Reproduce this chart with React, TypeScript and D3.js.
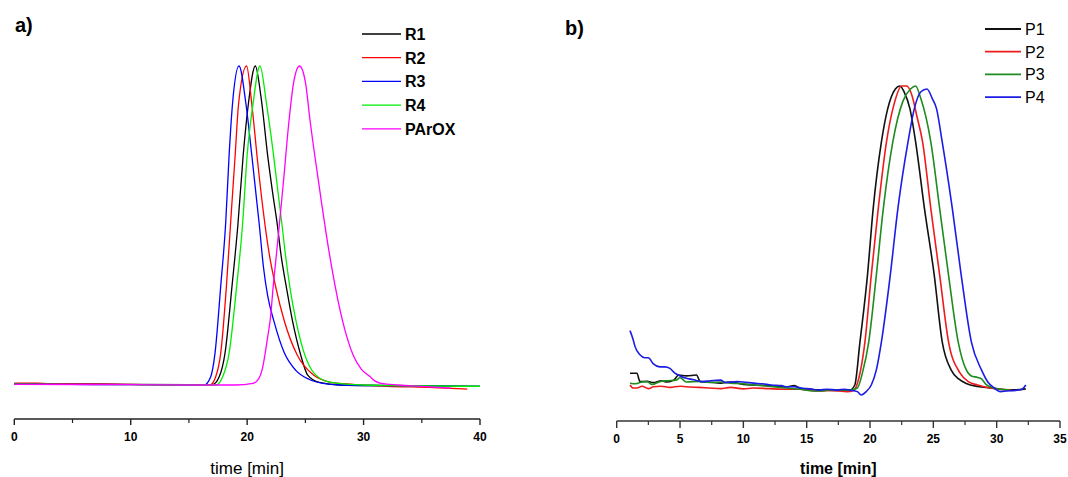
import React from "react";
import * as d3 from "d3";

type Pt = [number, number];

// ---------- Panel a data (time [min], normalized signal) ----------
const seriesA_names = ["R1", "R2", "R3", "R4", "PArOX"];
const seriesA_colors = ["#000000", "#ff0000", "#0000ff", "#00ee00", "#ff00ff"];

const R1: Pt[] = [[0,0.004],[5,0.003],[10,0.002],[15,0.001],[17,0.001],[17.6,0.026],[18.1,0.1],[18.7,0.31],[19.2,0.5],[19.66,0.72],[20.1,0.88],[20.7,1.0],[21.2,0.9],[21.76,0.72],[22.2,0.6],[22.6,0.5],[22.9,0.41],[23.4,0.3],[23.9,0.2],[24.6,0.094],[25.2,0.031],[26.2,0.008],[28,0.0],[32,-0.002],[40,-0.004]];
const R2: Pt[] = [[0,0.006],[2,0.006],[3,0.004],[6,0.004],[10,0.002],[15,0.0],[16.8,0.0],[17.3,0.026],[17.73,0.1],[18.22,0.31],[18.6,0.52],[18.97,0.72],[19.26,0.88],[19.95,1.0],[20.4,0.88],[20.9,0.7],[21.4,0.54],[21.9,0.41],[22.5,0.3],[23.2,0.2],[24.3,0.094],[25.7,0.031],[27,0.01],[28.3,0.004],[32,-0.004],[36,-0.008],[38.9,-0.013]];
const R3: Pt[] = [[0,0.003],[5,0.002],[10,0.001],[16.3,0.0],[16.87,0.026],[17.24,0.1],[17.73,0.31],[18.16,0.51],[18.45,0.72],[18.74,0.88],[19.3,1.0],[19.9,0.88],[20.4,0.72],[21.05,0.5],[21.4,0.37],[21.76,0.28],[22.3,0.2],[23.2,0.1],[24.2,0.045],[25.3,0.018],[26.5,0.005],[28,0.0],[32,-0.002],[40,-0.004]];
const R4: Pt[] = [[0,0.003],[10,0.001],[17.3,0.0],[17.9,0.026],[18.45,0.1],[19.1,0.31],[19.6,0.5],[20.0,0.72],[20.5,0.88],[21.1,1.0],[21.67,0.88],[22.2,0.74],[22.6,0.62],[23.0,0.5],[23.25,0.42],[23.7,0.3],[24.2,0.2],[24.9,0.1],[25.8,0.035],[27.2,0.008],[30,0.0],[40,-0.004]];
const PArOX: Pt[] = [[0,0.002],[10,0.001],[16,0.0],[19,0.0],[20.5,0.005],[21.0,0.02],[21.3,0.05],[21.76,0.15],[22.0,0.21],[22.24,0.31],[22.6,0.44],[23.1,0.63],[23.6,0.83],[24.0,0.95],[24.5,1.0],[25.0,0.95],[25.4,0.83],[26.2,0.62],[27.07,0.41],[28.2,0.2],[29.1,0.094],[29.8,0.05],[30.5,0.028],[31.0,0.012],[31.5,0.005],[33,0.0],[35,-0.004],[37.5,-0.01]];
const seriesA: Pt[][] = [R1, R2, R3, R4, PArOX];

const ticksA = [0, 10, 20, 30, 40];
const minorTicksA = [5, 15, 25, 35];

// ---------- Panel b data ----------
const seriesB_names = ["P1", "P2", "P3", "P4"];
const seriesB_colors = ["#111111", "#ee1c1c", "#1e8c1e", "#1c1ce6"];

const P1: Pt[] = [[1.05,0.049],[1.6,0.049],[1.75,0.03],[1.84,0.021],[2.4,0.022],[2.9,0.018],[3.5,0.024],[4.0,0.02],[4.5,0.026],[4.9,0.043],[5.5,0.04],[6.3,0.043],[6.6,0.021],[7.2,0.02],[8.2,0.016],[9.0,0.02],[10.0,0.012],[10.8,0.01],[12,0.008],[13.4,0.004],[14.0,0.008],[14.7,-0.005],[16,-0.006],[17.4,-0.008],[18.4,-0.007],[18.8,0.01],[19.2,0.15],[19.8,0.374],[20.25,0.594],[20.9,0.815],[21.4,0.925],[22.0,0.99],[22.36,1.0],[22.7,0.98],[23.15,0.925],[23.6,0.815],[24.3,0.594],[25.07,0.374],[25.7,0.153],[26.4,0.06],[27.0,0.03],[27.6,0.015],[28.5,0.005],[29.5,0.0],[30.5,-0.005],[31.5,-0.006],[32.3,-0.003]];
const P2: Pt[] = [[1.05,0.01],[1.3,0.0],[1.6,0.0],[2.0,0.006],[2.5,-0.002],[2.9,0.004],[3.5,0.006],[4.2,0.002],[5.0,0.006],[5.5,0.004],[6.5,0.002],[7.3,0.0],[8.2,-0.002],[9.0,0.002],[10.0,-0.003],[10.8,0.0],[12.0,-0.002],[13.4,-0.004],[14.5,-0.004],[16.0,-0.01],[17.0,-0.008],[18.2,-0.012],[18.7,-0.008],[19.1,0.03],[19.6,0.153],[20.1,0.374],[20.65,0.594],[21.3,0.815],[21.9,0.94],[22.5,1.0],[22.9,1.0],[23.3,0.97],[23.7,0.9],[24.15,0.815],[24.8,0.594],[25.5,0.374],[26.2,0.153],[27.1,0.05],[27.8,0.02],[28.5,0.01],[29.5,0.0],[30.5,-0.005],[31.2,-0.008]];
const P3: Pt[] = [[1.05,0.016],[1.5,0.014],[2.0,0.02],[2.4,0.021],[2.8,0.012],[3.4,0.021],[4.0,0.024],[4.7,0.026],[5.0,0.034],[5.5,0.02],[6.5,0.022],[7.5,0.018],[8.2,0.02],[9.0,0.016],[10.0,0.014],[10.8,0.01],[12.0,0.006],[13.4,0.0],[14.5,-0.004],[15.5,-0.01],[16.0,-0.01],[17.0,-0.006],[18.4,-0.007],[19.0,0.0],[19.4,0.05],[19.9,0.153],[20.5,0.374],[21.05,0.594],[21.8,0.815],[22.6,0.95],[23.2,0.99],[23.6,1.0],[24.0,0.96],[24.8,0.815],[25.5,0.594],[26.2,0.374],[26.96,0.153],[27.6,0.06],[28.0,0.04],[28.5,0.035],[28.8,0.03],[29.2,0.01],[29.8,0.0],[30.5,-0.005],[31.0,-0.006]];
const P4: Pt[] = [[1.05,0.19],[1.3,0.16],[1.45,0.137],[1.84,0.11],[2.2,0.1],[2.5,0.1],[2.9,0.08],[3.4,0.07],[3.8,0.07],[4.2,0.065],[4.6,0.049],[5.0,0.04],[5.5,0.032],[6.0,0.028],[6.8,0.021],[7.4,0.024],[8.2,0.026],[8.6,0.018],[9.5,0.021],[10.0,0.02],[10.8,0.016],[11.5,0.014],[12.2,0.01],[13.0,0.008],[13.4,0.004],[14.0,0.004],[14.7,-0.001],[15.3,-0.003],[16.0,-0.007],[16.6,-0.004],[17.4,-0.007],[18.0,-0.004],[18.4,-0.007],[19.0,-0.012],[19.3,-0.023],[19.7,-0.012],[20.1,0.01],[20.5,0.06],[20.9,0.153],[21.6,0.374],[22.2,0.594],[23.0,0.815],[23.5,0.925],[24.0,0.98],[24.5,0.99],[24.9,0.96],[25.25,0.925],[25.7,0.815],[26.5,0.594],[27.2,0.374],[28.0,0.153],[28.8,0.06],[29.3,0.02],[29.8,0.0],[30.3,-0.012],[30.8,-0.01],[31.5,-0.008],[32.0,-0.004],[32.3,0.01]];
const seriesB: Pt[][] = [P1, P2, P3, P4];

const ticksB = [0, 5, 10, 15, 20, 25, 30, 35];
const minorTicksB = [2.5, 7.5, 12.5, 17.5, 22.5, 27.5, 32.5];

const FONT = "'Liberation Sans', Arial, sans-serif";

export default function App() {
  const xA = d3.scaleLinear().domain([0, 40]).range([14.3, 480]);
  const yA = d3.scaleLinear().domain([0, 1]).range([385, 66]);
  const xB = d3.scaleLinear().domain([0, 35]).range([616.7, 1060]);
  const yB = d3.scaleLinear().domain([0, 1]).range([388, 86]);

  const lineA = d3.line<Pt>().x(d => xA(d[0])).y(d => yA(d[1])).curve(d3.curveMonotoneX);
  const lineB = d3.line<Pt>().x(d => xB(d[0])).y(d => yB(d[1])).curve(d3.curveMonotoneX);

  const axisYA = 419;
  const axisYB = 421;

  return (
    <svg width={1068} height={477} style={{ position: "absolute", left: 0, top: 0, background: "#fff" }} fontFamily={FONT}>
      {/* Panel a */}
      <text x={15} y={32} fontSize={20} fontWeight="bold">a)</text>
      {seriesA.map((s, i) => (
        <path key={i} d={lineA(s) || ""} fill="none" stroke={seriesA_colors[i]} strokeWidth={1.3} />
      ))}
      <line x1={xA(0)} x2={xA(40)} y1={axisYA} y2={axisYA} stroke="#222" strokeWidth={1.4} />
      {ticksA.map(t => (
        <g key={t}>
          <line x1={xA(t)} x2={xA(t)} y1={axisYA} y2={axisYA + 6} stroke="#222" strokeWidth={1.4} />
          <text x={xA(t)} y={441} fontSize={12} fontWeight="bold" textAnchor="middle">{t}</text>
        </g>
      ))}
      {minorTicksA.map(t => (
        <line key={t} x1={xA(t)} x2={xA(t)} y1={axisYA} y2={axisYA + 4} stroke="#222" strokeWidth={1.2} />
      ))}
      <text x={xA(20)} y={474} fontSize={17} textAnchor="middle">time [min]</text>
      {seriesA_names.map((n, i) => (
        <g key={n}>
          <line x1={362} x2={401} y1={34 + i * 23.7} y2={34 + i * 23.7} stroke={seriesA_colors[i]} strokeWidth={1.3} />
          <text x={405} y={34 + i * 23.7 + 6} fontSize={16} fontWeight="bold">{n}</text>
        </g>
      ))}

      {/* Panel b */}
      <text x={565} y={35} fontSize={20} fontWeight="bold">b)</text>
      {seriesB.map((s, i) => (
        <path key={i} d={lineB(s) || ""} fill="none" stroke={seriesB_colors[i]} strokeWidth={1.6} />
      ))}
      <line x1={xB(0)} x2={xB(35)} y1={axisYB} y2={axisYB} stroke="#333" strokeWidth={1.4} />
      {ticksB.map(t => (
        <g key={t}>
          <line x1={xB(t)} x2={xB(t)} y1={axisYB} y2={axisYB + 7} stroke="#333" strokeWidth={1.4} />
          <text x={xB(t)} y={443} fontSize={12} fontWeight="bold" textAnchor="middle">{t}</text>
        </g>
      ))}
      {minorTicksB.map(t => (
        <line key={t} x1={xB(t)} x2={xB(t)} y1={axisYB} y2={axisYB + 4} stroke="#333" strokeWidth={1.2} />
      ))}
      <text x={xB(17.5)} y={474} fontSize={16} fontWeight="bold" textAnchor="middle">time [min]</text>
      {seriesB_names.map((n, i) => (
        <g key={n}>
          <line x1={985} x2={1021} y1={29 + i * 22.7} y2={29 + i * 22.7} stroke={seriesB_colors[i]} strokeWidth={1.8} />
          <text x={1025} y={29 + i * 22.7 + 6} fontSize={16}>{n}</text>
        </g>
      ))}
    </svg>
  );
}
